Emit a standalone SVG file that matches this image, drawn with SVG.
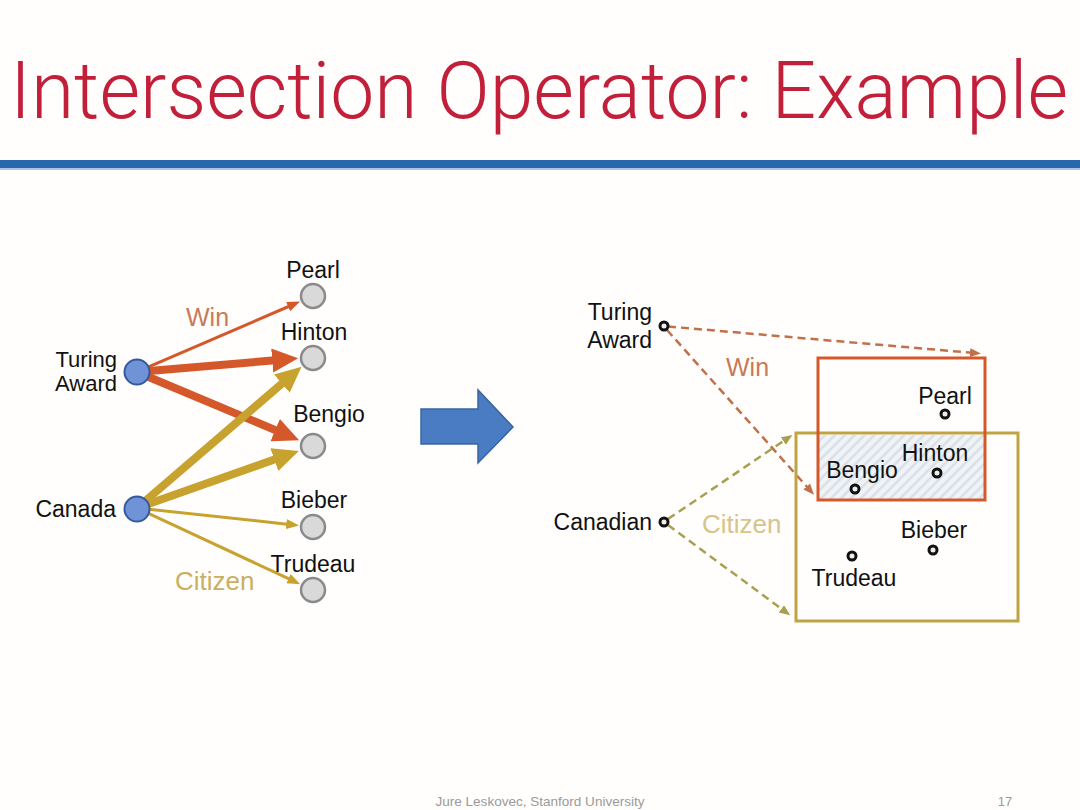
<svg xmlns="http://www.w3.org/2000/svg" width="1080" height="810" viewBox="0 0 1080 810">
<style>
.t{font-family:"Liberation Sans",Arial,sans-serif;font-size:23px;fill:#111}
.title{font-family:Roboto,"Liberation Sans",sans-serif;font-weight:300;font-size:79px;fill:#c21f3a}
.win{stroke:#d4582a;fill:none}
.cit{stroke:#c8a22e;fill:none}
.src{fill:#6f93d6;stroke:#36589c;stroke-width:2}
.dst{fill:#d9d9d9;stroke:#8a8a8a;stroke-width:2.5}
.dot{fill:#eeeeee;stroke:#111;stroke-width:3}
.dw{stroke:#c0704a;stroke-width:2.5;stroke-dasharray:8 5;fill:none}
.dc{stroke:#a8a050;stroke-width:2.5;stroke-dasharray:8 5;fill:none}
.foot{font-family:"Liberation Sans",Arial,sans-serif;font-size:13px;fill:#9a9a9a}
</style>
<defs>
<marker id="hw" markerUnits="userSpaceOnUse" markerWidth="26" markerHeight="26" refX="6" refY="12" orient="auto"><path d="M0,0 L26,12 L0,24 z" fill="#d4582a"/></marker>
<marker id="hc" markerUnits="userSpaceOnUse" markerWidth="26" markerHeight="26" refX="6" refY="12" orient="auto"><path d="M0,0 L26,12 L0,24 z" fill="#c8a22e"/></marker>
<marker id="sw" markerUnits="userSpaceOnUse" markerWidth="14" markerHeight="12" refX="3" refY="5" orient="auto"><path d="M0,0 L13,5 L0,10 z" fill="#d4582a"/></marker>
<marker id="sc" markerUnits="userSpaceOnUse" markerWidth="14" markerHeight="12" refX="3" refY="5" orient="auto"><path d="M0,0 L13,5 L0,10 z" fill="#c8a22e"/></marker>
<marker id="dwm" markerUnits="userSpaceOnUse" markerWidth="12" markerHeight="10" refX="2" refY="4.5" orient="auto"><path d="M0,0 L11,4.5 L0,9 z" fill="#c0704a"/></marker>
<marker id="dcm" markerUnits="userSpaceOnUse" markerWidth="12" markerHeight="10" refX="2" refY="4.5" orient="auto"><path d="M0,0 L11,4.5 L0,9 z" fill="#a8a050"/></marker>
<pattern id="hatch" patternUnits="userSpaceOnUse" width="7" height="7" patternTransform="rotate(45)">
<rect width="7" height="7" fill="#f1f4f7"/><line x1="2" y1="0" x2="2" y2="7" stroke="#d8dfe7" stroke-width="2.5"/>
</pattern>
</defs>
<rect width="1080" height="810" fill="#fffefc"/>
<text class="title" x="10" y="118" textLength="1058" lengthAdjust="spacingAndGlyphs">Intersection Operator: Example</text>
<rect x="0" y="160" width="1080" height="8" fill="#2a68ad"/>
<rect x="0" y="168" width="1080" height="2" fill="#a9c6e6"/>

<g id="connectors">
<line class="win" stroke-width="3" x1="148" y1="367.2" x2="290.9" y2="305.5" marker-end="url(#sw)"/>
<line class="win" stroke-width="8" x1="149" y1="371" x2="278.2" y2="360" marker-end="url(#hw)"/>
<line class="win" stroke-width="8" x1="148.1" y1="376.7" x2="280.7" y2="432.4" marker-end="url(#hw)"/>
<line class="cit" stroke-width="8" x1="146.1" y1="500.2" x2="286.4" y2="379.8" marker-end="url(#hc)"/>
<line class="cit" stroke-width="8" x1="148.3" y1="504" x2="280" y2="457.6" marker-end="url(#hc)"/>
<line class="cit" stroke-width="3" x1="149" y1="509.3" x2="289.2" y2="524.4" marker-end="url(#sc)"/>
<line class="cit" stroke-width="3" x1="147.9" y1="513.1" x2="291.2" y2="579.9" marker-end="url(#sc)"/>
<line class="dw" x1="668" y1="326.5" x2="972" y2="352.8" marker-end="url(#dwm)"/>
<line class="dw" x1="667" y1="330" x2="808" y2="488" marker-end="url(#dwm)"/>
<line class="dc" x1="668" y1="519" x2="785" y2="440" marker-end="url(#dcm)"/>
<line class="dc" x1="668" y1="525" x2="783" y2="610" marker-end="url(#dcm)"/>
</g>

<g id="label-win-left"><text x="186" y="326" style="font-family:'Liberation Sans',Arial,sans-serif;font-size:25px;fill:#c97a55">Win</text></g>
<g id="label-citizen-left"><text x="175" y="590" style="font-family:'Liberation Sans',Arial,sans-serif;font-size:26px;fill:#c8b060">Citizen</text></g>

<g id="turing"><circle class="src" cx="137" cy="372" r="12.5"/><text class="t" x="117" y="367" text-anchor="end" style="font-size:22px">Turing</text><text class="t" x="117" y="391" text-anchor="end" style="font-size:22px">Award</text></g>
<g id="canada"><circle class="src" cx="137" cy="509" r="12.5"/><text class="t" x="116" y="517" text-anchor="end">Canada</text></g>
<g id="pearl"><circle class="dst" cx="313" cy="296" r="12"/><text class="t" x="313" y="278" text-anchor="middle">Pearl</text></g>
<g id="hinton"><circle class="dst" cx="313" cy="358" r="12"/><text class="t" x="314" y="340" text-anchor="middle">Hinton</text></g>
<g id="bengio"><circle class="dst" cx="313" cy="446" r="12"/><text class="t" x="329" y="422" text-anchor="middle">Bengio</text></g>
<g id="bieber"><circle class="dst" cx="313" cy="527" r="12"/><text class="t" x="314" y="508" text-anchor="middle">Bieber</text></g>
<g id="trudeau"><circle class="dst" cx="313" cy="590" r="12"/><text class="t" x="313" y="572" text-anchor="middle">Trudeau</text></g>

<g id="big-arrow"><path d="M421,409 L478,409 L478,390 L513,427 L478,463 L478,444 L421,444 z" fill="#4a7cc4" stroke="#3a64a0" stroke-width="1.5"/></g>

<g id="citizen-box"><rect x="796" y="433" width="222" height="188" fill="none" stroke="#c0a444" stroke-width="3"/></g>
<g id="win-box"><rect x="818" y="435" width="167" height="65" fill="url(#hatch)"/><rect x="818" y="358" width="167" height="142" fill="none" stroke="#d4582a" stroke-width="3"/></g>

<g id="label-win-right"><text x="726" y="376" style="font-family:'Liberation Sans',Arial,sans-serif;font-size:25px;fill:#c97a55">Win</text></g>
<g id="label-citizen-right"><text x="702" y="533" style="font-family:'Liberation Sans',Arial,sans-serif;font-size:26px;fill:#d6c48a">Citizen</text></g>

<g id="r-turing"><circle class="dot" cx="664" cy="326" r="4"/><text class="t" x="652" y="320" text-anchor="end">Turing</text><text class="t" x="652" y="348" text-anchor="end">Award</text></g>
<g id="r-canadian"><circle class="dot" cx="664" cy="522" r="4"/><text class="t" x="652" y="530" text-anchor="end">Canadian</text></g>
<g id="r-pearl"><circle class="dot" cx="945" cy="414" r="4"/><text class="t" x="945" y="404" text-anchor="middle">Pearl</text></g>
<g id="r-hinton"><circle class="dot" cx="937" cy="473" r="4"/><text class="t" x="935" y="461" text-anchor="middle">Hinton</text></g>
<g id="r-bengio"><circle class="dot" cx="855" cy="489" r="4"/><text class="t" x="862" y="478" text-anchor="middle">Bengio</text></g>
<g id="r-bieber"><circle class="dot" cx="933" cy="550" r="4"/><text class="t" x="934" y="538" text-anchor="middle">Bieber</text></g>
<g id="r-trudeau"><circle class="dot" cx="852" cy="556" r="4"/><text class="t" x="854" y="586" text-anchor="middle">Trudeau</text></g>

<text class="foot" x="540" y="806" text-anchor="middle" textLength="209" lengthAdjust="spacingAndGlyphs">Jure Leskovec, Stanford University</text>
<text class="foot" x="1005" y="806" text-anchor="middle">17</text>
</svg>
